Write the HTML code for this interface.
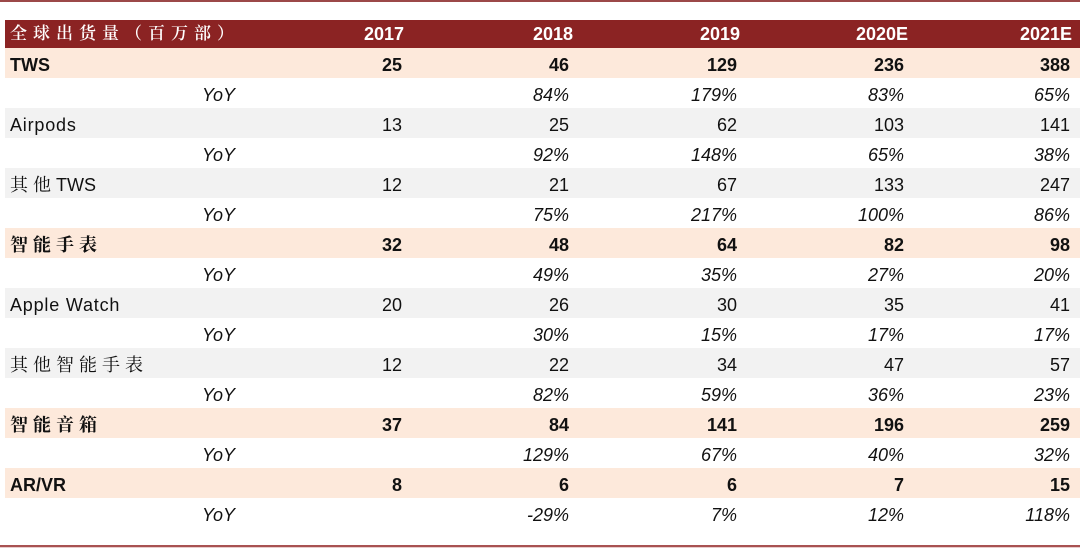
<!DOCTYPE html>
<html><head><meta charset="utf-8">
<style>
html,body{margin:0;padding:0;background:#fff;}
body{width:1080px;height:549px;position:relative;overflow:hidden;font-family:"Liberation Sans","Noto Sans CJK SC",sans-serif;font-size:18px;color:#111;}
.topline{position:absolute;left:0;top:0;width:1080px;height:2px;background:#9c4848;}
.botline{position:absolute;left:0;top:545px;width:1080px;height:2px;background:#a85252;}
.botline2{position:absolute;left:0;top:547px;width:1080px;height:1px;background:#e8cccc;}
.hdr{position:absolute;left:5px;top:20px;width:1075px;height:28px;background:#8b2323;border-bottom:1px solid #2a1010;color:#fff;font-weight:bold;}
.row{position:absolute;left:5px;width:1075px;height:30px;}
.pe{background:#fde9db;}
.gr{background:#f2f2f2;}
.c{position:absolute;top:2px;line-height:30px;white-space:nowrap;}
.hdr .c{top:0;line-height:28px;}
.l{left:5px;}
.lt{letter-spacing:0.8px;}
.cn{font-family:"Liberation Serif","Noto Serif CJK SC",serif;letter-spacing:5px;font-size:18px;}
.hcn{font-family:"Liberation Serif","Noto Serif CJK SC",serif;letter-spacing:6px;font-size:17px;font-weight:600;}
.yoy{left:197px;font-style:italic;}
.r1,.r2,.r3,.r4,.r5{text-align:right;width:100px;}
.r1{left:297px;}.r2{left:464px;}.r3{left:632px;}.r4{left:799px;}.r5{left:965px;}
.hdr .r1{left:299px;}.hdr .r2{left:468px;}.hdr .r3{left:635px;}.hdr .r4{left:803px;}.hdr .r5{left:967px;}
.b{font-weight:bold;}
.i{font-style:italic;}
</style></head><body>
<div class="topline"></div>

<div class="hdr">
<div class="c l hcn">全球出货量（百万部）</div>
<div class="c r1">2017</div><div class="c r2">2018</div><div class="c r3">2019</div><div class="c r4">2020E</div><div class="c r5">2021E</div>
</div>

<div class="row pe b" style="top:48px">
<div class="c l">TWS</div>
<div class="c r1">25</div><div class="c r2">46</div><div class="c r3">129</div><div class="c r4">236</div><div class="c r5">388</div>
</div>
<div class="row i" style="top:78px">
<div class="c yoy">YoY</div>
<div class="c r2">84%</div><div class="c r3">179%</div><div class="c r4">83%</div><div class="c r5">65%</div>
</div>
<div class="row gr" style="top:108px">
<div class="c l lt">Airpods</div>
<div class="c r1">13</div><div class="c r2">25</div><div class="c r3">62</div><div class="c r4">103</div><div class="c r5">141</div>
</div>
<div class="row i" style="top:138px">
<div class="c yoy">YoY</div>
<div class="c r2">92%</div><div class="c r3">148%</div><div class="c r4">65%</div><div class="c r5">38%</div>
</div>
<div class="row gr" style="top:168px">
<div class="c l"><span class="cn">其他</span>TWS</div>
<div class="c r1">12</div><div class="c r2">21</div><div class="c r3">67</div><div class="c r4">133</div><div class="c r5">247</div>
</div>
<div class="row i" style="top:198px">
<div class="c yoy">YoY</div>
<div class="c r2">75%</div><div class="c r3">217%</div><div class="c r4">100%</div><div class="c r5">86%</div>
</div>
<div class="row pe b" style="top:228px">
<div class="c l cn">智能手表</div>
<div class="c r1">32</div><div class="c r2">48</div><div class="c r3">64</div><div class="c r4">82</div><div class="c r5">98</div>
</div>
<div class="row i" style="top:258px">
<div class="c yoy">YoY</div>
<div class="c r2">49%</div><div class="c r3">35%</div><div class="c r4">27%</div><div class="c r5">20%</div>
</div>
<div class="row gr" style="top:288px">
<div class="c l lt">Apple Watch</div>
<div class="c r1">20</div><div class="c r2">26</div><div class="c r3">30</div><div class="c r4">35</div><div class="c r5">41</div>
</div>
<div class="row i" style="top:318px">
<div class="c yoy">YoY</div>
<div class="c r2">30%</div><div class="c r3">15%</div><div class="c r4">17%</div><div class="c r5">17%</div>
</div>
<div class="row gr" style="top:348px">
<div class="c l cn">其他智能手表</div>
<div class="c r1">12</div><div class="c r2">22</div><div class="c r3">34</div><div class="c r4">47</div><div class="c r5">57</div>
</div>
<div class="row i" style="top:378px">
<div class="c yoy">YoY</div>
<div class="c r2">82%</div><div class="c r3">59%</div><div class="c r4">36%</div><div class="c r5">23%</div>
</div>
<div class="row pe b" style="top:408px">
<div class="c l cn">智能音箱</div>
<div class="c r1">37</div><div class="c r2">84</div><div class="c r3">141</div><div class="c r4">196</div><div class="c r5">259</div>
</div>
<div class="row i" style="top:438px">
<div class="c yoy">YoY</div>
<div class="c r2">129%</div><div class="c r3">67%</div><div class="c r4">40%</div><div class="c r5">32%</div>
</div>
<div class="row pe b" style="top:468px">
<div class="c l">AR/VR</div>
<div class="c r1">8</div><div class="c r2">6</div><div class="c r3">6</div><div class="c r4">7</div><div class="c r5">15</div>
</div>
<div class="row i" style="top:498px">
<div class="c yoy">YoY</div>
<div class="c r2">-29%</div><div class="c r3">7%</div><div class="c r4">12%</div><div class="c r5">118%</div>
</div>

<div class="botline"></div>
<div class="botline2"></div>
</body></html>
